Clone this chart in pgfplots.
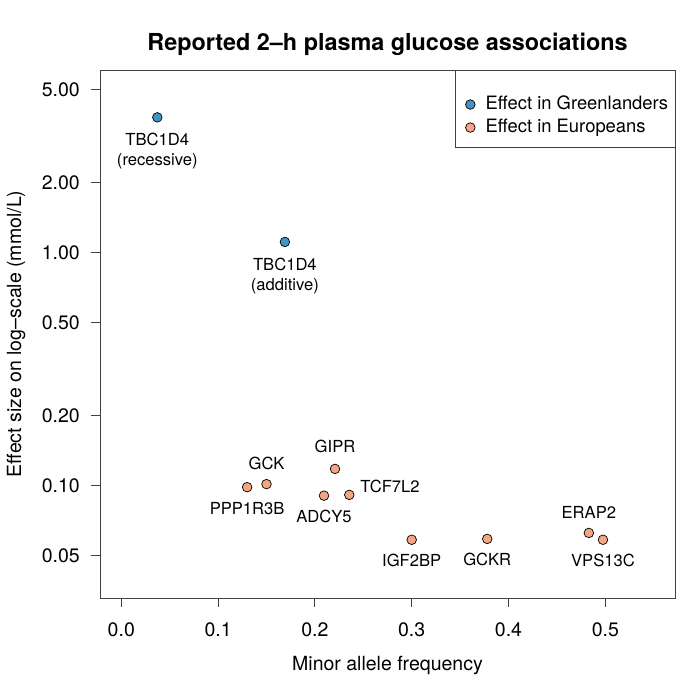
\documentclass[border=0pt]{standalone}
\usepackage{fontspec}
\setmainfont{TeX Gyre Heros}
\usepackage{pgfplots}
\pgfplotsset{compat=1.18}
\definecolor{greenl}{HTML}{4393C3}
\definecolor{europ}{HTML}{F4A582}
\newcommand{\lbl}{\fontsize{16.6}{20}\selectfont}

\begin{document}
\fontsize{19.5}{23}\selectfont
\begin{tikzpicture}
\useasboundingbox (-100pt,-102pt) rectangle (600pt,598pt);
\begin{axis}[
  at={(0,0)}, anchor=south west,
  scale only axis, width=575pt, height=528pt,
  xmin=-0.022, xmax=0.572,
  ymode=log, ymin=0.03297, ymax=6.066,
  xtick={0,0.1,0.2,0.3,0.4,0.5},
  xticklabels={0.0,0.1,0.2,0.3,0.4,0.5},
  ytick={0.05,0.1,0.2,0.5,1,2,5},
  yticklabels={0.05,0.10,0.20,0.50,1.00,2.00,5.00},
  yminorticks=false,
  tick align=outside, xtick pos=bottom, ytick pos=left,
  major tick length=9pt,
  axis line style={black!75, line width=0.9pt},
  tick style={black!75, line width=0.9pt},
  xticklabel style={inner sep=0pt, anchor=north, yshift=-15pt},
  yticklabel style={inner sep=0pt, anchor=east, xshift=-11pt},
  title={Reported 2--h plasma glucose associations},
  title style={at={(axis description cs:0.5,1.0378)}, anchor=center, yshift=0pt,
    font=\bfseries\fontsize{23.4}{28}\selectfont},
  xlabel={Minor allele frequency},
  xlabel style={at={(axis description cs:0.5,-0.1269)}, anchor=center},
  ylabel={Effect size on log--scale (mmol/L)},
  ylabel style={at={(axis description cs:-0.146,0.5)}, anchor=center},
  legend cell align=left,
  legend image code/.code={\path (-14pt,0pt) (14pt,0pt);
    \draw[#1] plot coordinates {(0pt,0pt)};},
  legend style={draw=none, fill=none, at={(rel axis cs:0.619,1)},
    anchor=north west, yshift=-25pt, inner sep=0pt,
    row sep=4.5pt, nodes={inner sep=1pt},
    font=\fontsize{18.4}{22}\selectfont},
]
\addplot[only marks, mark=*, mark size=4.8pt,
  mark options={draw=black, fill=greenl, line width=0.7pt}]
  coordinates {(0.0372,3.80) (0.169,1.11)};
\addlegendentry{Effect in Greenlanders}
\addplot[only marks, mark=*, mark size=4.8pt,
  mark options={draw=black, fill=europ, line width=0.7pt}]
  coordinates {(0.130,0.0985) (0.150,0.1015) (0.2208,0.118) (0.2094,0.0906)
    (0.2355,0.0913) (0.300,0.0586) (0.378,0.0591) (0.483,0.0627) (0.4976,0.0586)};
\addlegendentry{Effect in Europeans}
\draw[black!75, line width=0.9pt] (rel axis cs:0.619,0.854) rectangle (rel axis cs:1,1);
\node[font=\lbl, align=center, yshift=-34pt] at (axis cs:0.0372,3.80) {TBC1D4\\(recessive)};
\node[font=\lbl, align=center, yshift=-34pt] at (axis cs:0.169,1.11) {TBC1D4\\(additive)};
\node[font=\lbl, yshift=-21pt] at (axis cs:0.130,0.0985) {PPP1R3B};
\node[font=\lbl, yshift=21pt] at (axis cs:0.150,0.1015) {GCK};
\node[font=\lbl, yshift=22pt] at (axis cs:0.2208,0.118) {GIPR};
\node[font=\lbl, yshift=-21pt] at (axis cs:0.2094,0.0906) {ADCY5};
\node[font=\lbl, anchor=west, inner sep=0pt, xshift=11pt, yshift=8pt] at (axis cs:0.2355,0.0913) {TCF7L2};
\node[font=\lbl, yshift=-21pt] at (axis cs:0.300,0.0586) {IGF2BP};
\node[font=\lbl, yshift=-21pt] at (axis cs:0.378,0.0591) {GCKR};
\node[font=\lbl, yshift=20pt] at (axis cs:0.483,0.0627) {ERAP2};
\node[font=\lbl, yshift=-21pt] at (axis cs:0.4976,0.0586) {VPS13C};
\end{axis}
\end{tikzpicture}
\end{document}
